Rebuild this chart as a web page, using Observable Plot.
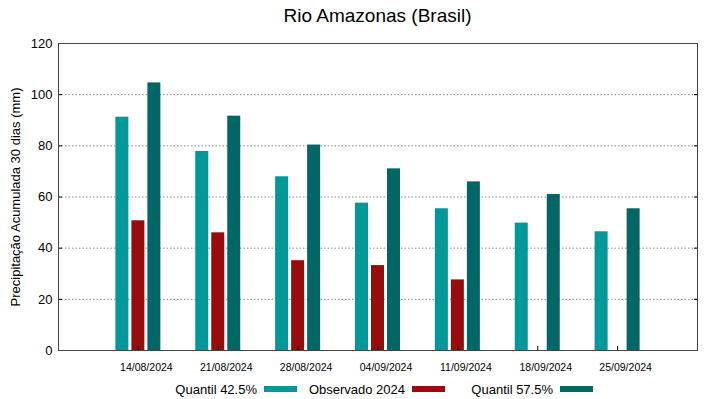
<!DOCTYPE html>
<html><head><meta charset="utf-8">
<script src="https://cdn.jsdelivr.net/npm/d3@7"></script>
<script src="https://cdn.jsdelivr.net/npm/@observablehq/plot@0.6"></script>
<style>
body{margin:0;background:#fff;font-family:"Liberation Sans",Arial,sans-serif;color:#000}
#title{height:32px;line-height:32px;font-size:19px;text-align:center;padding-left:36px;width:683px}
#legend{display:flex;padding-left:149px;height:22px;align-items:center;font-size:13px}
.item{width:148px;display:flex;justify-content:flex-end;align-items:center;white-space:nowrap}
.sw{width:33px;height:6px;margin-left:7px}
</style></head><body>
<div id="title">Rio Amazonas (Brasil)</div>
<div id="chart"></div>
<div id="legend"></div>
<script>
const dates = ["14/08/2024","21/08/2024","28/08/2024","04/09/2024","11/09/2024","18/09/2024","25/09/2024"];
const q425 = [91.2, 77.8, 67.9, 57.6, 55.4, 49.8, 46.4];
const obs = [50.7, 46.0, 35.1, 33.2, 27.6, null, null];
const q575 = [104.6, 91.6, 80.3, 71.0, 65.9, 61.0, 55.4];
const seriesNames = ["Quantil 42.5%", "Observado 2024", "Quantil 57.5%"];
const seriesColors = ["#009999", "#990c0c", "#006666"];
const yTicks = [0, 20, 40, 60, 80, 100, 120];
const gridTicks = [20, 40, 60, 80, 100];
const yLabel = "Precipitação Acumulada 30 dias (mm)";

const W = 719, H = 346, ml = 58, mr = 22, mt = 11, mb = 28;
const bw = (W - ml - mr) / (dates.length + 1);
const barW = 13, barStep = 16;
const seriesArrays = [q425, obs, q575];

const barMarks = seriesArrays.map((arr, s) => {
  const rows = dates.map((d, i) => ({date: d, value: arr[i]})).filter(r => r.value != null);
  const off = (s - 1) * barStep;
  const base = (bw - barW) / 2;
  return Plot.barY(rows, {x: "date", y: "value", fill: seriesColors[s],
    insetLeft: base + off, insetRight: base - off});
});

const chart = Plot.plot({
  width: W, height: H,
  marginLeft: ml, marginRight: mr, marginTop: mt, marginBottom: mb,
  style: {fontFamily: "Liberation Sans, Arial, sans-serif", color: "#000", background: "#fff"},
  x: {domain: dates, paddingInner: 0, paddingOuter: 0.5, round: false, label: null},
  y: {domain: [0, 120], label: null},
  marks: [
    Plot.gridY(gridTicks, {stroke: "#888", strokeOpacity: 1, strokeDasharray: "1.5,2"}),
    ...barMarks,
    Plot.axisY({ticks: yTicks, tickSize: -4, tickPadding: 10, fontSize: 13,
      label: yLabel, labelArrow: "none", labelAnchor: "center", labelOffset: 48}),
    Plot.axisY({anchor: "right", ticks: yTicks, tickSize: -4, tickFormat: () => "", label: null}),
    Plot.axisX({tickSize: -4, tickFormat: () => "", label: null}),
    Plot.axisX({tickSize: 0, tickPadding: 13, fontSize: 10.5, dx: 8, label: null}),
    Plot.frame({stroke: "#444"})
  ]
});
document.getElementById("chart").appendChild(chart);

const legend = document.getElementById("legend");
seriesNames.forEach((n, i) => {
  const it = document.createElement("div");
  it.className = "item";
  const t = document.createElement("span");
  t.textContent = n;
  const sw = document.createElement("span");
  sw.className = "sw";
  sw.style.background = seriesColors[i];
  it.appendChild(t); it.appendChild(sw);
  legend.appendChild(it);
});
</script>
</body></html>
